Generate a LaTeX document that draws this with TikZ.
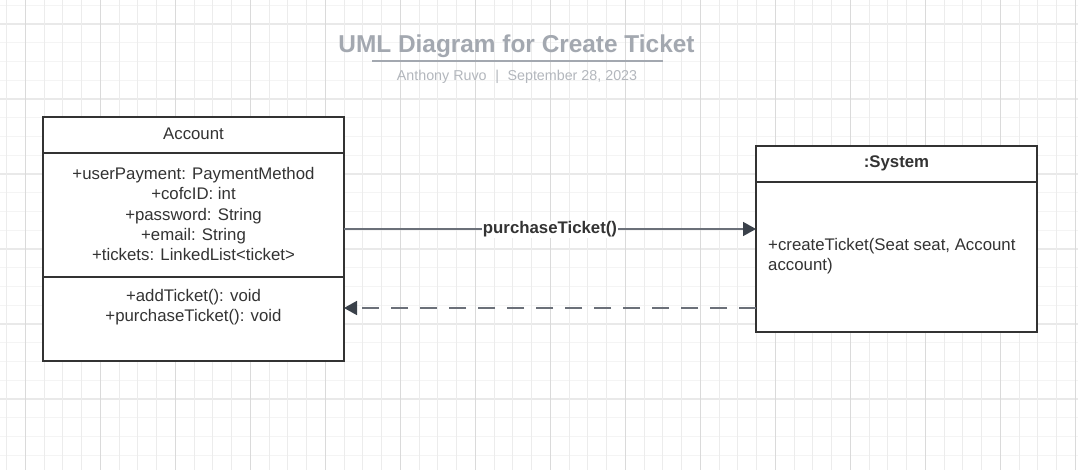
\documentclass[tikz,border=0pt]{standalone}
\usepackage{fontspec}
\setmainfont{Liberation Sans}
\usetikzlibrary{arrows.meta,calc}
\definecolor{gridvmin}{HTML}{ECECEC}
\definecolor{gridvmaj}{HTML}{DADADA}
\definecolor{gridhmin}{HTML}{F4F4F4}
\definecolor{gridhmaj}{HTML}{E9E9E9}
\definecolor{boxline}{HTML}{333333}
\definecolor{txtcol}{HTML}{333333}
\definecolor{titlecol}{HTML}{A3A8B0}
\definecolor{subcol}{HTML}{B3B7BD}
\definecolor{linecol}{HTML}{6B7079}
\definecolor{tipcol}{HTML}{3A414A}
\tikzset{
  classbox/.style={draw=boxline, line width=2pt, fill=white, inner sep=0pt, outer sep=0pt},
  divider/.style={draw=boxline, line width=2pt},
  txt/.style={text=txtcol, font=\fontsize{16.8}{20.3}\selectfont, inner sep=0pt, align=center, yshift=-1.5pt},
  ttl/.style={text=titlecol, font=\fontsize{24.4}{29}\selectfont\bfseries, inner sep=0pt, yshift=-2pt},
  sub/.style={text=subcol, font=\fontsize{14.3}{17}\selectfont, inner sep=0pt, yshift=-1.8pt},
  msg/.style={draw=linecol, line width=1.6pt, -{Triangle[length=13pt,width=14pt,color=tipcol]}},
  ret/.style={draw=linecol, line width=1.6pt, dash pattern=on 17pt off 12pt, -{Triangle[length=13pt,width=14pt,color=tipcol]}},
  lbl/.style={text=txtcol, font=\fontsize{16.8}{20.3}\selectfont\bfseries, fill=white, inner sep=1pt, yshift=-0.5pt}
}
\begin{document}
\begin{tikzpicture}[x=1pt,y=-1pt]
\useasboundingbox (0,0) rectangle (1078,470);
\fill[white] (0,0) rectangle (1078,470);
% grid
\foreach \k in {0,...,24} {
  \draw[gridhmin, line width=1pt] (0,{5.25+18.75*\k}) -- (1078,{5.25+18.75*\k});
}
\foreach \k in {0,...,5} {
  \draw[gridhmaj, line width=1.2pt] (0,{24+75*\k}) -- (1078,{24+75*\k});
}
\foreach \k in {0,...,57} {
  \draw[gridvmin, line width=1pt] ({6.7+18.75*\k},0) -- ({6.7+18.75*\k},470);
}
\foreach \k in {0,...,14} {
  \draw[gridvmaj, line width=1.2pt] ({25.7+75*\k},0) -- ({25.7+75*\k},470);
}
% title
\node[ttl] (title) at (516.5,44) {UML Diagram for Create Ticket};
\draw[titlecol, line width=2.2pt] (372,61) -- (663,61);
\node[sub] (subtitle) at (517,75) {Anthony Ruvo\hspace{8.6pt}|\hspace{8.6pt}September 28, 2023};
% Account class
\node[classbox, minimum width=301pt, minimum height=244pt] (acc) at (193.5,239) {};
\draw[divider] (acc.west |- 0,153) -- (acc.east |- 0,153);
\draw[divider] (acc.west |- 0,277) -- (acc.east |- 0,277);
\node[txt] (accname) at (193.5,132) {Account};
\node[txt] (accattr) at (193.5,212.5) {+userPayment: PaymentMethod\\+cofcID: int\\+password: String\\+email: String\\+tickets: LinkedList<ticket>};
\node[txt] (accmeth) at (193.5,306) {+addTicket(): void\\+purchaseTicket(): void};
% System
\node[classbox, minimum width=281pt, minimum height=186pt] (sys) at (896.5,239) {};
\draw[divider] (sys.west |- 0,182) -- (sys.east |- 0,182);
\node[txt, font=\fontsize{16.8}{20.3}\selectfont\bfseries] (sysname) at (896.5,162) {:System};
\node[txt, align=left, anchor=west] (sysop) at (768,255) {+createTicket(Seat seat, Account\\account)};
% messages
\draw[msg] (acc.east |- 0,229) -- node[lbl] (msglbl) {purchaseTicket()} (sys.west |- 0,229);
\draw[ret] (sys.west |- 0,308) -- (acc.east |- 0,308);
\end{tikzpicture}
\end{document}
